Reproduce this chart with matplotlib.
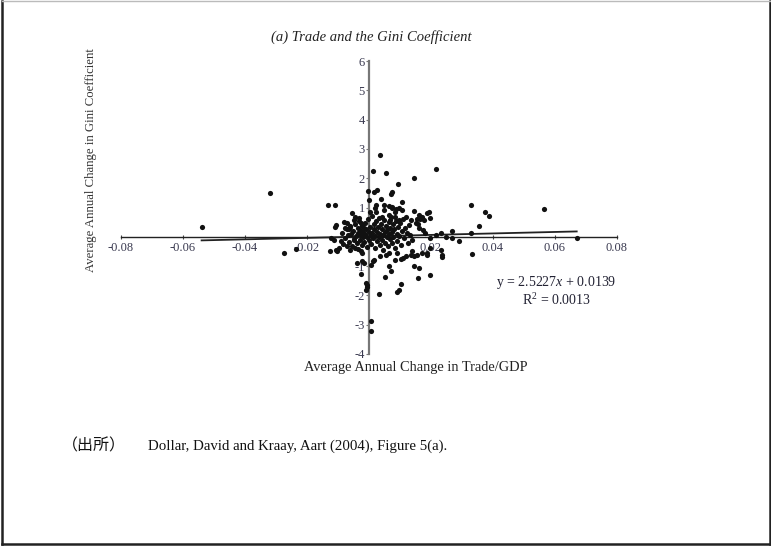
import matplotlib
matplotlib.use('Agg')
import matplotlib.pyplot as plt
from matplotlib.lines import Line2D

W, H = 771, 546

# ---- data ----
trade_change = [
    -0.0540, -0.0320, -0.0275, -0.0237, -0.0133, -0.0111, -0.0126, -0.0103, -0.0110, -0.0114,
    -0.0083, -0.0124, -0.0108, -0.0108, -0.0097, 0.0037, 0.0012, 0.0054, 0.0094, 0.0145,
    0.0216, -0.0002, 0.0016, 0.0027, 0.0074, 0.0070, 0.0107, 0.0039, 0.0000, 0.0024,
    0.0019, 0.0048, 0.0073, 0.0088, 0.0145, 0.0003, 0.0021, 0.0048, 0.0064, 0.0075,
    0.0085, 0.0096, 0.0107, 0.0161, 0.0172, 0.0188, 0.0193, 0.0134, 0.0150, 0.0161,
    0.0198, 0.0182, 0.0198, 0.0215, 0.0231, 0.0247, -0.0054, -0.0044, -0.0081, -0.0070,
    -0.0049, -0.0033, -0.0022, -0.0017, -0.0062, -0.0027, 0.0043, 0.0064, 0.0069, 0.0085,
    0.0096, 0.0118, 0.0166, 0.0155, 0.0177, 0.0159, 0.0175, 0.0268, 0.0330, 0.0373,
    0.0387, 0.0354, 0.0566, 0.0330, 0.0268, 0.0290, 0.0333, 0.0236, 0.0236, 0.0198,
    0.0188, 0.0670, -0.0027, -0.0022, -0.0027, -0.0011, -0.0006, -0.0011, 0.0032, 0.0005,
    0.0008, 0.0014, 0.0037, 0.0056, 0.0065, 0.0072, 0.0053, 0.0102, 0.0096, 0.0091,
    0.0085, 0.0102, 0.0110, 0.0145, 0.0145, 0.0161, 0.0158, 0.0188, -0.0022, 0.0015,
    0.0005, -0.0038, -0.0017, 0.0064, 0.0091, 0.0118, 0.0134, 0.0139, 0.0155, -0.0006,
    0.0172, 0.0198, 0.0231, -0.0078, -0.0065, -0.0090, -0.0072, -0.0060, -0.0045, -0.0050,
    # dense core
    -0.0086, -0.0079, -0.0071, -0.0069, -0.0064, -0.0061, -0.0057, -0.0055, -0.0051, -0.0047,
    -0.0046, -0.0042, -0.0040, -0.0037, -0.0035, -0.0034, -0.0031, -0.0029, -0.0028, -0.0025,
    -0.0024, -0.0021, -0.0019, -0.0018, -0.0015, -0.0013, -0.0012, -0.0009, -0.0008, -0.0005,
    -0.0004, -0.0001, 0.0001, 0.0002, 0.0005, 0.0006, 0.0009, 0.0011, 0.0012, 0.0015,
    0.0017, 0.0019, 0.0020, 0.0023, 0.0025, 0.0026, 0.0029, 0.0031, 0.0033, 0.0034,
    0.0036, 0.0039, 0.0041, 0.0042, 0.0045, 0.0046, 0.0049, 0.0051, 0.0052, 0.0055,
    0.0057, 0.0059, 0.0061, 0.0063, 0.0065, 0.0067, 0.0069, 0.0071, 0.0073, 0.0075,
    0.0077, 0.0079, 0.0081, 0.0083, 0.0086, 0.0089, 0.0091, 0.0094, 0.0097, 0.0101,
    0.0104, 0.0107, 0.0111, 0.0114, 0.0117, 0.0121, 0.0125, 0.0129, 0.0133, 0.0138,
]
gini_change = [
    0.33, 1.50, -0.55, -0.42, 1.07, 1.07, -0.50, -0.47, 0.35, -0.10,
    -0.24, -0.04, 0.41, -0.44, -0.39, 2.80, 2.23, 2.17, 1.80, 1.99,
    2.32, 1.57, 1.52, 1.60, 1.52, 1.46, 1.20, 1.30, 1.27, 1.09,
    0.98, 1.07, 1.01, 0.94, 0.89, 0.86, 0.86, 0.92, 1.06, 0.98,
    0.86, 0.98, 0.92, 0.75, 0.69, 0.81, 0.83, 0.58, 0.47, 0.30,
    0.64, 0.13, -0.04, 0.07, 0.13, 0.01, 0.81, 0.69, 0.52, 0.47,
    0.58, 0.64, 0.41, 0.30, 0.38, 0.47, 0.69, 0.75, 0.58, 0.69,
    0.58, 0.69, 0.62, 0.60, 0.58, 0.44, 0.24, 0.20, 1.09, 0.83,
    0.72, 0.38, 0.96, 0.13, -0.04, -0.16, -0.58, -0.69, -0.61, -1.30,
    -0.61, -0.03, -0.50, -0.84, -1.28, -1.58, -1.70, -1.81, -1.95, -2.89,
    -3.20, -0.81, -0.67, -0.61, -1.01, -1.18, -1.38, -1.62, -1.80, -1.90,
    -0.79, -0.76, -0.74, -0.65, -0.99, -1.05, -1.40, -0.56, -0.56, -0.78,
    -0.96, -0.90, -0.88, -0.55, -0.56, -0.65, -0.61, -0.50, -0.61, -1.64,
    -0.56, -0.39, -0.44, 0.30, 0.25, -0.15, -0.30, -0.45, -0.38, -0.12,
    # dense core
    0.12, -0.05, 0.28, 0.05, -0.18, 0.35, 0.10, -0.30, 0.20, -0.08,
    0.45, 0.02, -0.22, 0.30, 0.12, -0.40, 0.55, -0.10, 0.22, 0.05,
    -0.28, 0.38, 0.15, -0.02, -0.18, 0.48, 0.08, 0.25, -0.35, 0.00,
    0.62, 0.18, -0.12, 0.35, 0.05, -0.25, 0.72, 0.12, -0.05, 0.42,
    0.25, -0.38, 0.02, 0.55, -0.15, 0.18, 0.32, -0.02, 0.65, -0.28,
    0.10, 0.45, -0.10, 0.28, 0.05, -0.45, 0.58, 0.15, -0.20, 0.38,
    0.00, 0.22, -0.32, 0.50, 0.08, -0.08, 0.30, 0.68, -0.22, 0.15,
    0.42, -0.02, 0.25, -0.38, 0.55, 0.10, -0.15, 0.35, 0.02, 0.48,
    -0.28, 0.20, 0.62, -0.05, 0.30, 0.12, -0.20, 0.40, 0.05, -0.10,
]

fit_slope = 2.5227
fit_intercept = 0.0139
r_squared = 0.0013

x_ticks = [-0.08, -0.06, -0.04, -0.02, 0.02, 0.04, 0.06, 0.08]
x_tick_labels = ['-0.08', '-0.06', '-0.04', '-0.02', '0.02', '0.04', '0.06', '0.08']
y_ticks = [-4, -3, -2, -1, 1, 2, 3, 4, 5, 6]
y_tick_labels = ['-4', '-3', '-2', '-1', '1', '2', '3', '4', '5', '6']

title_text = '(a) Trade and the Gini Coefficient'
xlabel_text = 'Average Annual Change in Trade/GDP'
ylabel_text = 'Average Annual Change in Gini Coefficient'
source_label = '（出所）'
source_text = 'Dollar, David and Kraay, Aart (2004), Figure 5(a).'

# ---- styling ----
plt.rcParams['font.family'] = ['Liberation Serif', 'Noto Sans CJK JP', 'DejaVu Sans']
plt.rcParams['mathtext.fontset'] = 'custom'
plt.rcParams['mathtext.rm'] = 'Liberation Serif'
plt.rcParams['mathtext.it'] = 'Liberation Serif:italic'

fig = plt.figure(figsize=(W / 100, H / 100), dpi=100)
fig.patch.set_facecolor('white')

def fx(px):
    return px / W

def fy(py):
    return 1 - py / H

# frame around the whole image
for (xa, ya, xb, yb, col, lw) in [
    (1.5, 1, 1.5, 544, '#222222', 1.8),
    (769.5, 1, 769.5, 544, '#222222', 1.8),
    (1.5, 543.5, 769.5, 543.5, '#222222', 1.8),
    (1.5, 1, 769.5, 1, '#bbbbbb', 1.0),
]:
    fig.add_artist(Line2D([fx(xa), fx(xb)], [fy(ya), fy(yb)], transform=fig.transFigure,
                          color=col, linewidth=lw))

ax_left, ax_right, ax_top, ax_bottom = 121, 617, 61, 354
ax = fig.add_axes([fx(ax_left), fy(ax_bottom), (ax_right - ax_left) / W, (ax_bottom - ax_top) / H])
ax.set_xlim(-0.08, 0.08)
ax.set_ylim(-4, 6)
ax.patch.set_alpha(0)

for s in ('top', 'right'):
    ax.spines[s].set_visible(False)
ax.spines['left'].set_position(('data', 0))
ax.spines['bottom'].set_position(('data', 0))
ax.spines['left'].set_color('#777777')
ax.spines['left'].set_linewidth(1.6)
ax.spines['bottom'].set_color('#222222')
ax.spines['bottom'].set_linewidth(1.0)

tick_color = '#3a3a50'
ax.set_xticks(x_ticks)
ax.set_xticklabels(x_tick_labels)
ax.set_yticks(y_ticks)
ax.set_yticklabels(y_tick_labels)
ax.tick_params(axis='x', direction='inout', length=3, width=0.8, color='#444444',
               labelsize=9, labelcolor=tick_color, pad=2)
ax.tick_params(axis='y', direction='out', length=2, width=0.8, color='#777777',
               labelsize=9, labelcolor=tick_color, pad=1)

ax.scatter(trade_change, gini_change, s=14, color='#111111', marker='o', linewidths=0, zorder=3,
           clip_on=False)

xmin, xmax = min(trade_change), max(trade_change)
ax.plot([xmin, xmax], [fit_slope * xmin + fit_intercept, fit_slope * xmax + fit_intercept],
        color='#222222', linewidth=1.3, zorder=2.5)

eq_x = 0.0604
ax.text(eq_x, -1.55, 'y = %.4f$x$ + %.4f' % (fit_slope, fit_intercept), ha='center', va='center',
        fontsize=10, color='#222233')
ax.text(eq_x, -2.16, 'R$^{2}$ = %.4f' % r_squared, ha='center', va='center',
        fontsize=10, color='#222233')

fig.text(fx(371), fy(37), title_text, ha='center', va='center', fontsize=10.5, style='italic',
         color='#222222')
fig.text(fx(416), fy(368), xlabel_text, ha='center', va='center', fontsize=10.4, color='#222222')
fig.text(fx(91), fy(160), ylabel_text, ha='center', va='center', fontsize=9.2, rotation=90,
         color='#333333')

fig.text(fx(62), fy(446), source_label, ha='left', va='center', fontsize=11.5,
         family=['Noto Sans CJK JP'], color='#111111')
fig.text(fx(148), fy(446), source_text, ha='left', va='center', fontsize=10.7, color='#111111')

fig.savefig('out.png', dpi=100)
